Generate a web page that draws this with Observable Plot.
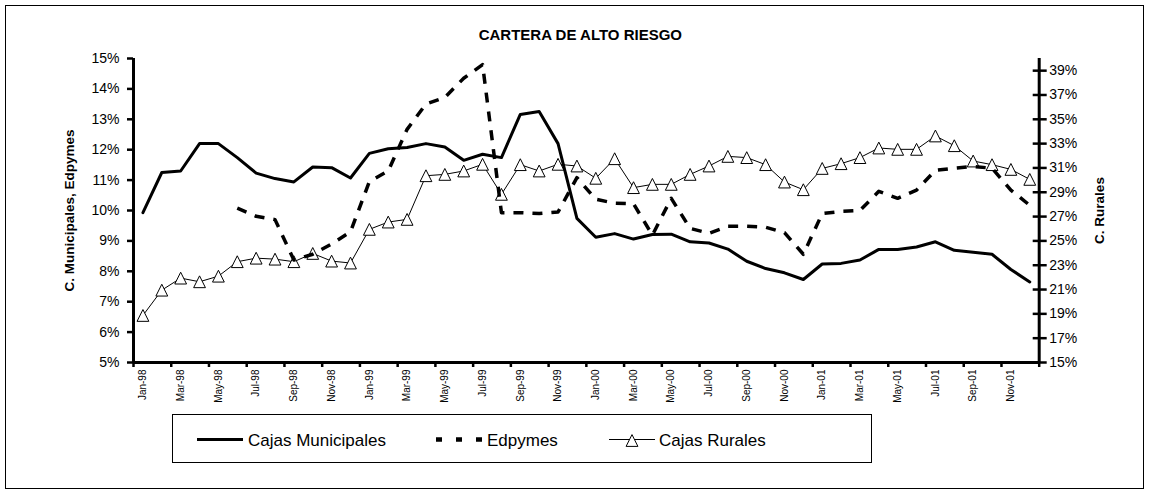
<!DOCTYPE html>
<html>
<head>
<meta charset="utf-8">
<script src="https://cdn.jsdelivr.net/npm/d3@7"></script>
<script src="https://cdn.jsdelivr.net/npm/@observablehq/plot@0.6"></script>
<style>
  body { margin: 0; background: #fff; }
  #wrap { position: relative; width: 1150px; height: 495px; overflow: hidden; background: #fff;
          font-family: Arial, "Liberation Sans", sans-serif; }
  #wrap > svg { position: absolute; left: 0; top: 0; }
</style>
</head>
<body>
<div id="wrap"></div>
<script>
// ---- data ----
const title = "CARTERA DE ALTO RIESGO";
const leftTitle = "C. Municipales, Edpymes";
const rightTitle = "C. Rurales";
const seriesNames = ["Cajas Municipales", "Edpymes", "Cajas Rurales"];

const months = [
  "Jan-98","Feb-98","Mar-98","Apr-98","May-98","Jun-98","Jul-98","Aug-98","Sep-98","Oct-98","Nov-98","Dec-98",
  "Jan-99","Feb-99","Mar-99","Apr-99","May-99","Jun-99","Jul-99","Aug-99","Sep-99","Oct-99","Nov-99","Dec-99",
  "Jan-00","Feb-00","Mar-00","Apr-00","May-00","Jun-00","Jul-00","Aug-00","Sep-00","Oct-00","Nov-00","Dec-00",
  "Jan-01","Feb-01","Mar-01","Apr-01","May-01","Jun-01","Jul-01","Aug-01","Sep-01","Oct-01","Nov-01","Dec-01"
];

// left axis (%)
const municipales = [
  9.93, 11.25, 11.30, 12.20, 12.20, 11.74, 11.23, 11.05, 10.94, 11.43, 11.41, 11.07,
  11.88, 12.03, 12.07, 12.20, 12.09, 11.65, 11.85, 11.74, 13.16, 13.26, 12.20, 9.74,
  9.12, 9.24, 9.06, 9.21, 9.22, 8.97, 8.93, 8.73, 8.33, 8.09, 7.95, 7.73,
  8.24, 8.26, 8.37, 8.72, 8.72, 8.80, 8.97, 8.69, 8.63, 8.56, 8.06, 7.65
];
const edpymes = [
  null, null, null, null, null, 10.08, 9.81, 9.70, 8.37, 8.56, 8.90, 9.30,
  10.95, 11.30, 12.67, 13.50, 13.72, 14.35, 14.80, 9.93, 9.93, 9.90, 9.95, 11.08,
  10.37, 10.24, 10.22, 9.19, 10.40, 9.41, 9.25, 9.48, 9.48, 9.45, 9.27, 8.56,
  9.90, 9.97, 10.00, 10.63, 10.40, 10.67, 11.32, 11.39, 11.45, 11.39, 10.67, 10.17
];
// right axis (%)
const rurales = [
  18.87, 20.95, 21.94, 21.64, 22.10, 23.29, 23.58, 23.50, 23.29, 23.97, 23.34, 23.18,
  25.95, 26.55, 26.77, 30.36, 30.47, 30.75, 31.30, 28.83, 31.27, 30.75, 31.30, 31.16,
  30.15, 31.76, 29.38, 29.65, 29.65, 30.47, 31.16, 31.95, 31.85, 31.27, 29.84, 29.21,
  30.96, 31.35, 31.85, 32.64, 32.53, 32.53, 33.63, 32.83, 31.57, 31.27, 30.88, 30.06
];

const leftTicks = [5, 6, 7, 8, 9, 10, 11, 12, 13, 14, 15];
const rightTicks = [15, 17, 19, 21, 23, 25, 27, 29, 31, 33, 35, 37, 39];
const leftDomain = [5, 15];
const rightDomain = [15, 40];

// ---- mapping of right axis onto left scale ----
const k = (leftDomain[1] - leftDomain[0]) / (rightDomain[1] - rightDomain[0]);
const toLeft = v => leftDomain[0] + (v - rightDomain[0]) * k;
const toRight = v => rightDomain[0] + (v - leftDomain[0]) / k;

const idx = months.map((_, i) => i);
const evenIdx = idx.filter(i => i % 2 === 0);
const bounds = evenIdx.map(i => i - 0.5).concat([months.length - 0.5]);
const edIdx = idx.filter(i => edpymes[i] != null);

const tri = {
  draw(ctx, size) {
    const r = Math.sqrt(size / Math.PI);
    ctx.moveTo(0, -r);
    ctx.lineTo(r, r);
    ctx.lineTo(-r, r);
    ctx.closePath();
  }
};

const font = "Arial, 'Liberation Sans', sans-serif";

const chart = Plot.plot({
  width: 1150,
  height: 495,
  marginLeft: 133,
  marginRight: 111.3,
  marginTop: 58,
  marginBottom: 133,
  x: {domain: [-0.5, months.length - 0.5], axis: null},
  y: {domain: leftDomain, axis: null},
  style: {fontFamily: font, background: "transparent", color: "#000", overflow: "visible"},
  marks: [
    // left axis
    Plot.axisY({anchor: "left", ticks: leftTicks, tickFormat: d => d + "%", tickSize: 6, tickPadding: 8,
                fontSize: 14, strokeWidth: 2.5, label: null}),
    // right axis (crossing ticks)
    Plot.axisY({anchor: "right", ticks: rightTicks.map(toLeft), tickFormat: d => Math.round(toRight(d)) + "%",
                tickSize: 14, tickPadding: 3, dx: -7, fontSize: 14, strokeWidth: 2.5, label: null}),
    // x axis ticks at category boundaries
    Plot.axisX({ticks: bounds, tickSize: 5, tickFormat: () => "", strokeWidth: 2.5, label: null}),
    // month labels
    Plot.text(evenIdx, {x: i => i, y: () => leftDomain[0], text: i => months[i], rotate: -90,
                        textAnchor: "end", lineAnchor: "middle", dy: 7, fontSize: 10}),
    // axis lines
    Plot.ruleX([-0.5], {stroke: "#000", strokeWidth: 3}),
    Plot.ruleX([months.length - 0.5], {stroke: "#000", strokeWidth: 3}),
    Plot.ruleY([leftDomain[0]], {stroke: "#000", strokeWidth: 3}),
    // Cajas Rurales (right axis)
    Plot.line(idx, {x: i => i, y: i => toLeft(rurales[i]), stroke: "#000", strokeWidth: 1}),
    Plot.dot(idx, {x: i => i, y: i => toLeft(rurales[i]), symbol: tri, r: 5.9, fill: "#fff",
                   stroke: "#000", strokeWidth: 1}),
    // Cajas Municipales
    Plot.line(idx, {x: i => i, y: i => municipales[i], stroke: "#000", strokeWidth: 3}),
    // Edpymes
    Plot.line(edIdx, {x: i => i, y: i => edpymes[i], stroke: "#000", strokeWidth: 3.5,
                      strokeDasharray: "10,9", strokeLinecap: "butt"}),
    // titles
    Plot.text([title], {text: d => d, frameAnchor: "top", dy: -23, dx: -6, fontSize: 15, fontWeight: "bold",
                        textAnchor: "middle", lineAnchor: "middle"}),
    Plot.text([leftTitle], {text: d => d, frameAnchor: "left", dx: -64, rotate: -90, fontSize: 13.5, fontWeight: "bold",
                            textAnchor: "middle", lineAnchor: "middle"}),
    Plot.text([rightTitle], {text: d => d, frameAnchor: "right", dx: 60, rotate: -90, fontSize: 13.5, fontWeight: "bold",
                             textAnchor: "middle", lineAnchor: "middle"})
  ]
});

const wrap = document.getElementById("wrap");
wrap.appendChild(chart);

// ---- chart-area frame and legend overlay ----
const svg = d3.select(wrap).append("svg")
  .attr("width", 1150).attr("height", 495)
  .style("pointer-events", "none");

svg.append("rect").attr("x", 5.5).attr("y", 5.5).attr("width", 1138).attr("height", 483)
  .attr("fill", "none").attr("stroke", "#000").attr("stroke-width", 1);

const lg = svg.append("g").attr("font-family", font).attr("font-size", 17);
lg.append("rect").attr("x", 172.5).attr("y", 414.5).attr("width", 699).attr("height", 48)
  .attr("fill", "none").attr("stroke", "#000").attr("stroke-width", 1);

const ly = 439.5;
// entry 1
lg.append("line").attr("x1", 197).attr("x2", 243).attr("y1", ly).attr("y2", ly)
  .attr("stroke", "#000").attr("stroke-width", 3);
lg.append("text").attr("x", 248).attr("y", 445.5).text(seriesNames[0]);
// entry 2
lg.append("line").attr("x1", 436).attr("x2", 482).attr("y1", ly).attr("y2", ly)
  .attr("stroke", "#000").attr("stroke-width", 4.5).attr("stroke-dasharray", "6,14");
lg.append("text").attr("x", 487).attr("y", 445.5).text(seriesNames[1]);
// entry 3
lg.append("line").attr("x1", 609).attr("x2", 655).attr("y1", ly).attr("y2", ly)
  .attr("stroke", "#000").attr("stroke-width", 1);
lg.append("path").attr("d", d3.symbol(tri, Math.PI * 5.9 * 5.9)()).attr("transform", `translate(632,${ly + 1})`)
  .attr("fill", "#fff").attr("stroke", "#000").attr("stroke-width", 1);
lg.append("text").attr("x", 659).attr("y", 445.5).text(seriesNames[2]);
</script>
</body>
</html>
